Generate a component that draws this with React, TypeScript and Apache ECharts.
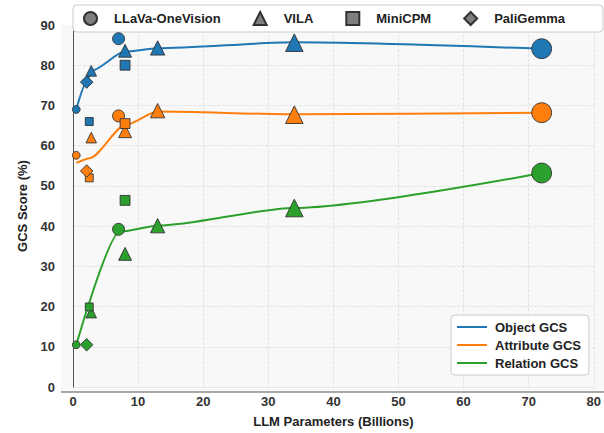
import React, { useEffect, useRef } from "react";
import * as echarts from "echarts";

// ---- data ----
const metricNames = ["Object GCS", "Attribute GCS", "Relation GCS"];
const metricColors = ["#1f77b4", "#ff7f0e", "#2ca02c"];
const modelNames = ["LLaVa-OneVision", "VILA", "MiniCPM", "PaliGemma"];
const modelSymbols = ["circle", "triangle", "rect", "diamond"];

const llavaParams = [0.5, 7, 72];
const llavaObject = [69, 86.6, 84.1];
const llavaAttribute = [57.6, 67.4, 68.2];
const llavaRelation = [10.5, 39.2, 53.2];

const vilaParams = [2.8, 8, 13, 34];
const vilaObject = [78.6, 83.6, 84.3, 85.6];
const vilaAttribute = [62.0, 63.6, 68.7, 67.7];
const vilaRelation = [18.5, 33.1, 40.1, 44.5];

const minicpmParams = [2.5, 8];
const minicpmObject = [66.0, 80.0];
const minicpmAttribute = [52.0, 65.5];
const minicpmRelation = [19.9, 46.4];

const paliParams = [2.1];
const paliObject = [75.8];
const paliAttribute = [53.7];
const paliRelation = [10.5];

const objectTrendX = [0.5, 2.1, 2.8, 8, 13, 34, 72];
const objectTrendY = [69, 75.8, 78.6, 83.4, 84.2, 85.7, 84.1];
const attributeTrendX = [0.5, 2.6, 8, 13, 34, 72];
const attributeTrendY = [55.7, 56.9, 65.1, 68.5, 67.8, 68.2];
const relationTrendX = [0.5, 7.2, 13, 34, 72];
const relationTrendY = [10.5, 38.6, 40.1, 44.5, 53.2];

const FONT = "'Liberation Sans', Arial, sans-serif";

const zip = (xs: number[], ys: number[]) => xs.map((x, i) => [x, ys[i]]);

const shapeFactor: Record<string, number> = {
  circle: 1.0,
  triangle: 1.05,
  rect: 0.8,
  diamond: 1.3,
};

function markerSeries(
  name: string,
  symbol: string,
  params: number[],
  metrics: number[][]
) {
  const data: any[] = [];
  metrics.forEach((vals, mi) => {
    params.forEach((p, i) => {
      data.push({ value: [p, vals[i]], itemStyle: { color: metricColors[mi] } });
    });
  });
  const f = shapeFactor[symbol];
  return {
    name,
    type: "scatter",
    symbol,
    symbolSize: (v: number[]) => f * Math.sqrt(30 + 43 * Math.sqrt(v[0])),
    itemStyle: { color: "#7f7f7f", borderColor: "#333", borderWidth: 0.9, opacity: 1 },
    z: 4,
    data,
  };
}

export default function App() {
  const ref = useRef<HTMLDivElement>(null);

  useEffect(() => {
    if (!ref.current) return;
    const chart = echarts.init(ref.current, undefined, { renderer: "svg" });

    const trends = [
      zip(objectTrendX, objectTrendY),
      zip(attributeTrendX, attributeTrendY),
      zip(relationTrendX, relationTrendY),
    ];

    const lineSeries = metricNames.map((n, i) => ({
      name: n,
      type: "line",
      data: trends[i],
      symbol: "none",
      smooth: 0.25,
      smoothMonotone: "x",
      lineStyle: { color: metricColors[i], width: 2 },
      itemStyle: { color: metricColors[i] },
      z: 2,
    }));

    const scatterSeries = [
      markerSeries(modelNames[0], modelSymbols[0], llavaParams, [llavaObject, llavaAttribute, llavaRelation]),
      markerSeries(modelNames[1], modelSymbols[1], vilaParams, [vilaObject, vilaAttribute, vilaRelation]),
      markerSeries(modelNames[2], modelSymbols[2], minicpmParams, [minicpmObject, minicpmAttribute, minicpmRelation]),
      markerSeries(modelNames[3], modelSymbols[3], paliParams, [paliObject, paliAttribute, paliRelation]),
    ];

    const legendText = { fontSize: 13, fontWeight: "bold", color: "#222", fontFamily: FONT };

    chart.setOption({
      animation: false,
      textStyle: { fontFamily: FONT },
      grid: { left: 73, right: 9, top: 25, bottom: 41, containLabel: false },
      graphic: [
        {
          type: "rect",
          z: -100,
          silent: true,
          shape: { x: 61, y: 25, width: 543, height: 367 },
          style: { fill: "#f8f8f8" },
        },
        {
          type: "line",
          z: 1,
          silent: true,
          shape: { x1: 61, y1: 392, x2: 604, y2: 392 },
          style: { stroke: "#555", lineWidth: 1 },
        },
      ],
      legend: [
        {
          data: modelNames,
          orient: "horizontal",
          left: 73,
          top: 5,
          itemWidth: 13,
          itemHeight: 13,
          itemGap: 32,
          padding: [6, 38, 6, 10],
          backgroundColor: "#ffffff",
          borderColor: "#cccccc",
          borderWidth: 1,
          borderRadius: 4,
          textStyle: { ...legendText, padding: [0, 0, 0, 12] },
          selectedMode: false,
        },
        {
          data: metricNames.map((n, i) => ({
            name: n,
            icon: "rect",
            itemStyle: { color: metricColors[i], borderWidth: 0 },
          })),
          orient: "vertical",
          left: 451,
          top: 315,
          itemWidth: 30,
          itemHeight: 2,
          itemGap: 4,
          padding: [5, 8, 5, 6],
          backgroundColor: "#ffffff",
          borderColor: "#cccccc",
          borderWidth: 1,
          borderRadius: 4,
          textStyle: { ...legendText, lineHeight: 14, padding: [0, 0, 0, 3] },
          selectedMode: false,
        },
      ],
      xAxis: {
        type: "value",
        min: 0,
        max: 80,
        interval: 10,
        axisLine: { show: false },
        axisTick: { show: false },
        splitLine: { show: true, lineStyle: { color: "#dddddd", type: "dashed", width: 0.8 } },
        axisLabel: { fontSize: 13, fontWeight: "bold", color: "#333", margin: 8, fontFamily: FONT },
        name: "LLM Parameters (Billions)",
        nameLocation: "middle",
        nameGap: 28,
        nameTextStyle: { fontSize: 13, fontWeight: "bold", color: "#222", fontFamily: FONT },
      },
      yAxis: {
        type: "value",
        min: 0,
        max: 90,
        interval: 10,
        offset: 12,
        axisLine: { show: true, lineStyle: { color: "#555", width: 1 } },
        axisTick: { show: false },
        splitLine: { show: true, lineStyle: { color: "#dddddd", type: "dashed", width: 0.8 } },
        axisLabel: { fontSize: 13, fontWeight: "bold", color: "#333", margin: 6, fontFamily: FONT },
        name: "GCS Score (%)",
        nameLocation: "middle",
        nameGap: 32,
        nameTextStyle: { fontSize: 13, fontWeight: "bold", color: "#222", fontFamily: FONT },
      },
      series: [...lineSeries, ...scatterSeries],
    });

    return () => chart.dispose();
  }, []);

  return (
    <div
      ref={ref}
      style={{ position: "fixed", left: 0, top: 0, width: 604, height: 433, background: "#ffffff" }}
    />
  );
}
